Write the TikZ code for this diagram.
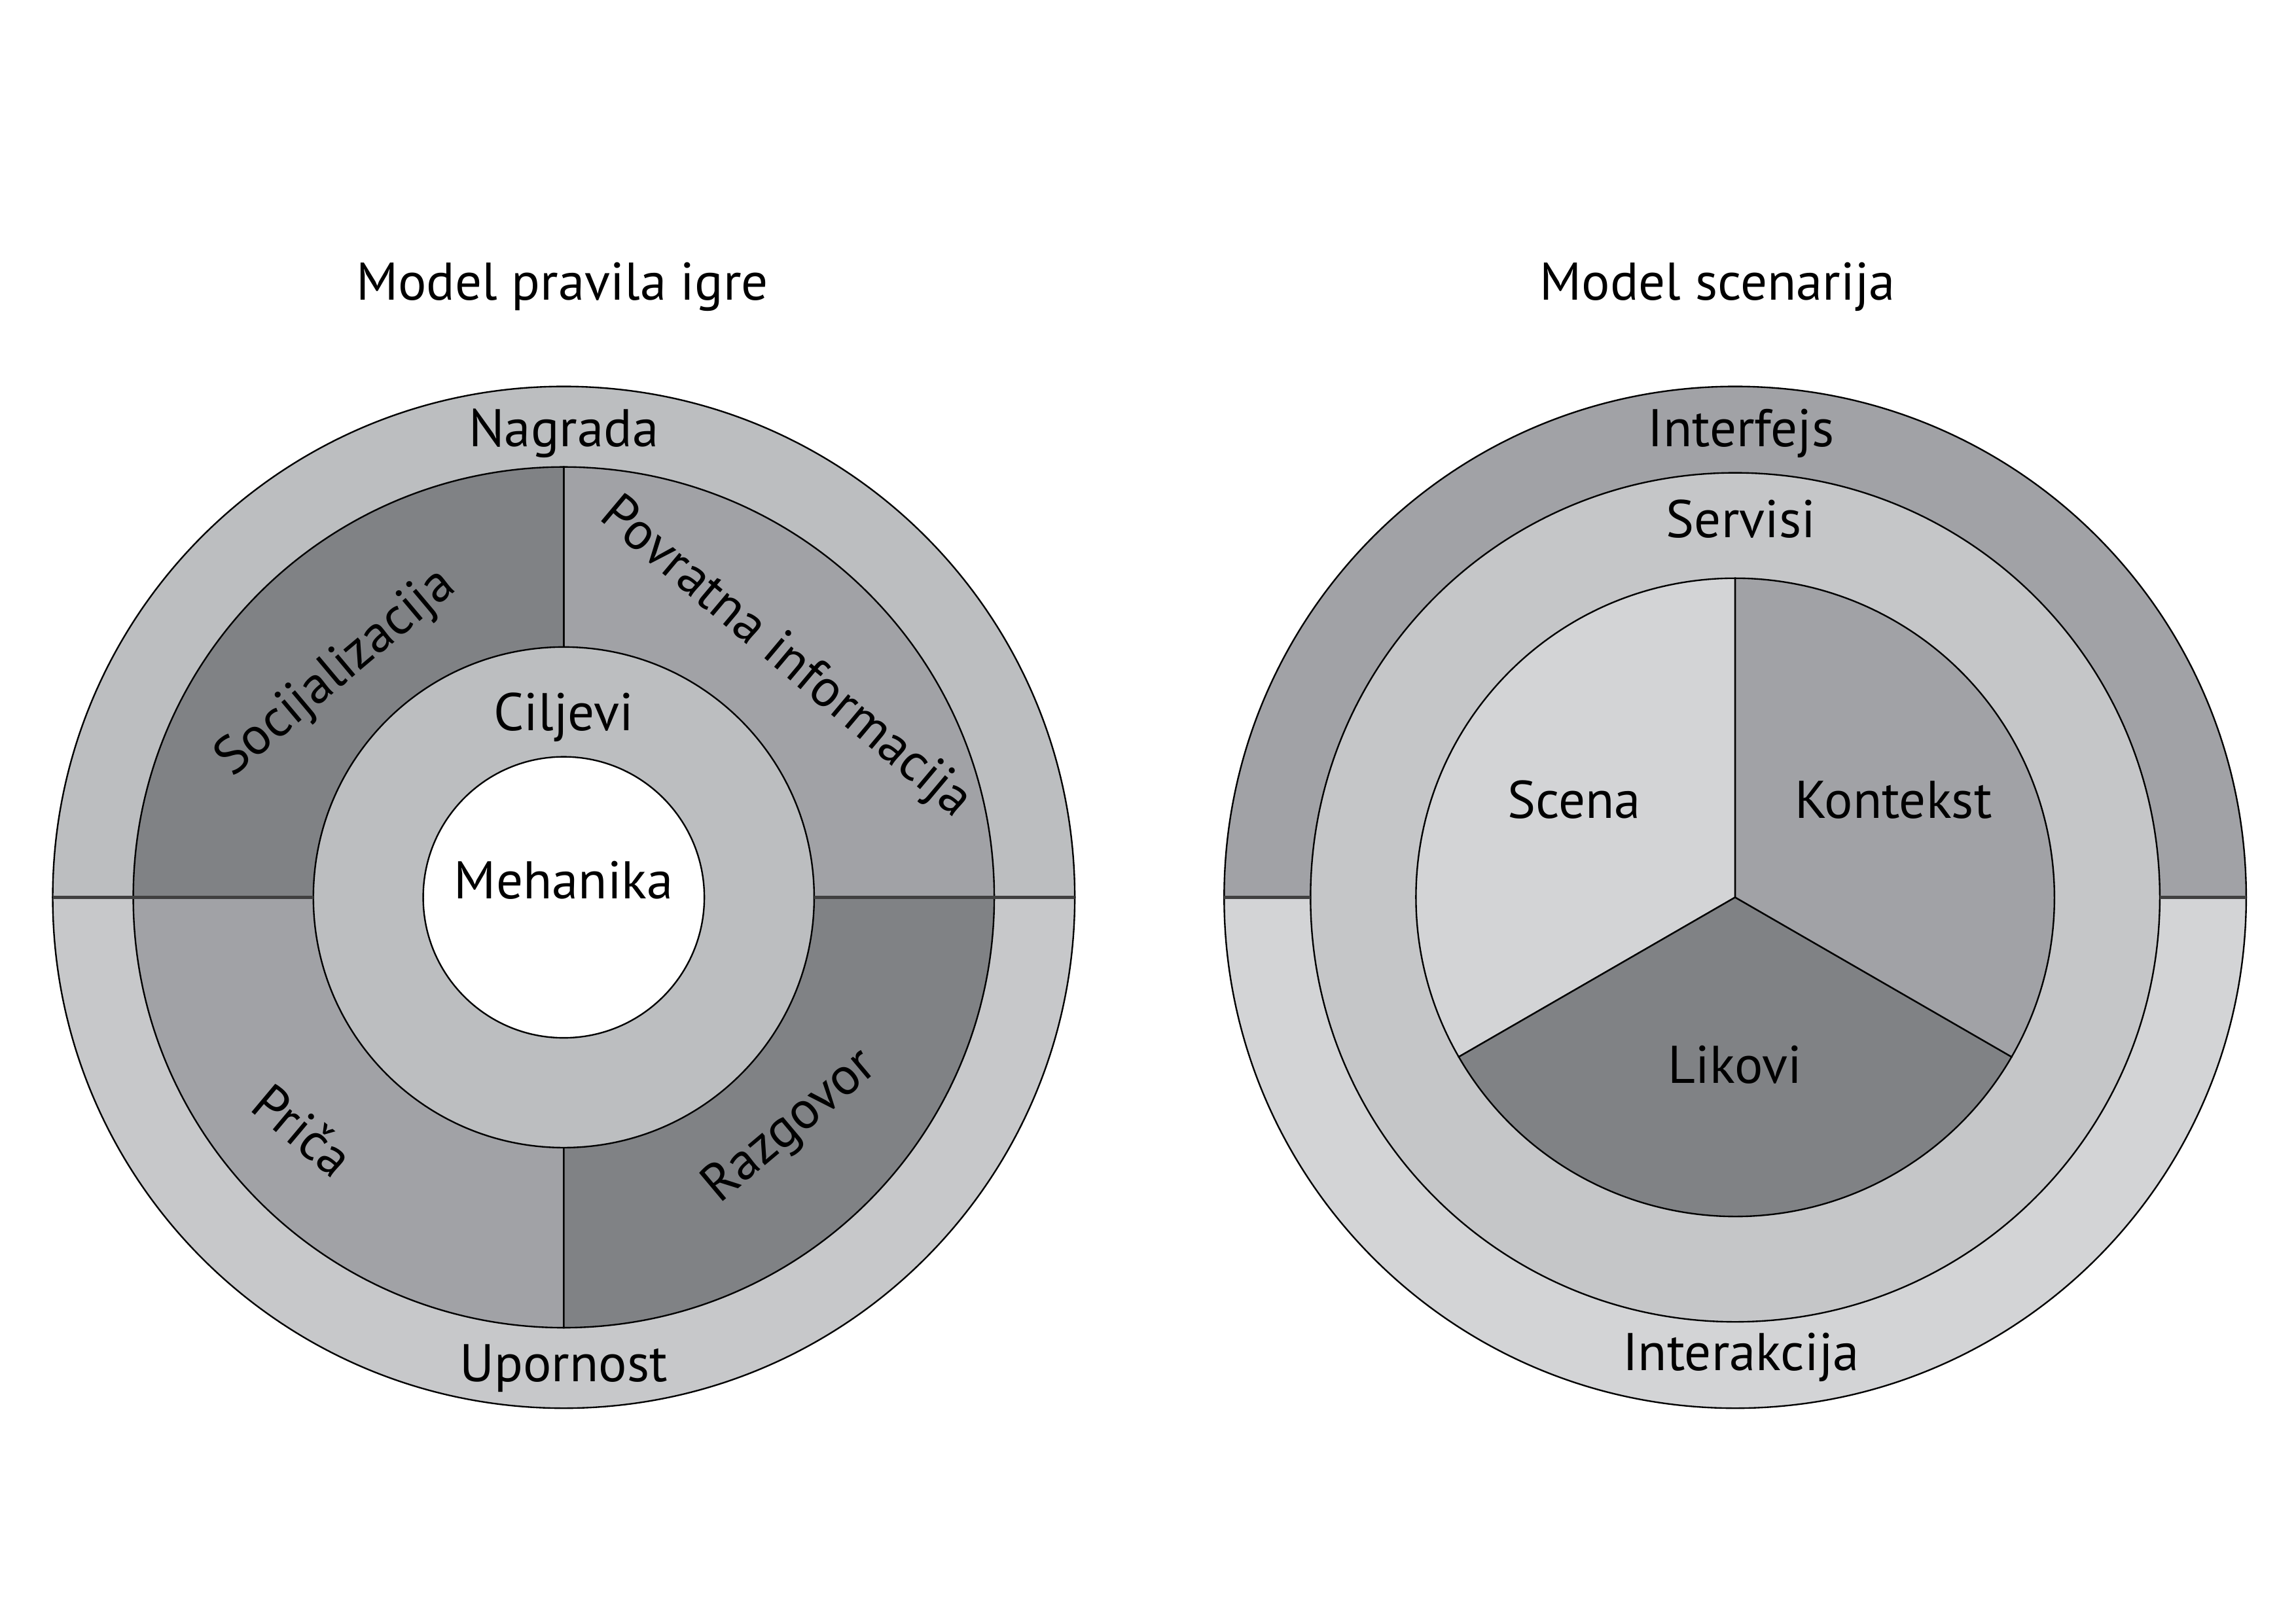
\documentclass[tikz,border=0pt]{standalone}
\usepackage{fontspec}
\setmainfont{PT Sans}
\definecolor{ringGray}{HTML}{BCBEC0}
\definecolor{lowGray}{HTML}{C7C8CA}
\definecolor{darkGray}{HTML}{808285}
\definecolor{midGray}{HTML}{A1A2A6}
\definecolor{paleGray}{HTML}{D3D4D6}
\definecolor{servGray}{HTML}{C5C6C8}

\begin{document}
\begin{tikzpicture}[x=0.01cm, y=0.01cm,
		rub/.style={draw=black, line width=0.3pt},
		razdio/.style={draw=black!75, line width=0.6pt},
		lbl/.style={font=\fontsize{10.3}{12}\selectfont, inner sep=0pt}]
		\useasboundingbox (0,0) rectangle (1568,1109);
		\coordinate (igra) at (385,496);
		\coordinate (scen) at (1185,496);
		%%%%%%%%%%%%%
		\node[lbl, anchor=base] (naslovA) at (384,904) {Model pravila igre};
		\node[lbl, anchor=base] (naslovB) at (1173,904) {Model scenarija};
		%%%%%%%%%%%%% model pravila igre
		\begin{scope}[shift={(igra)}]
		\filldraw[rub, fill=ringGray] (0:349) arc[start angle=0, end angle=180, radius=349] -- cycle;
		\filldraw[rub, fill=lowGray] (180:349) arc[start angle=180, end angle=360, radius=349] -- cycle;
		\filldraw[rub, fill=midGray] (0,0) -- (0:294) arc[start angle=0, end angle=90, radius=294] -- cycle;
		\filldraw[rub, fill=darkGray] (0,0) -- (90:294) arc[start angle=90, end angle=180, radius=294] -- cycle;
		\filldraw[rub, fill=midGray] (0,0) -- (180:294) arc[start angle=180, end angle=270, radius=294] -- cycle;
		\filldraw[rub, fill=darkGray] (0,0) -- (270:294) arc[start angle=270, end angle=360, radius=294] -- cycle;
		\filldraw[rub, fill=ringGray] (0,0) circle[radius=171];
		\filldraw[rub, fill=white] (0,0) circle[radius=96];
		\draw[razdio] (-349,0) -- (-171,0); \draw[razdio] (171,0) -- (349,0);
		%%%%%%%%%%%%%
		\node[lbl, anchor=base] (nagrada) at (0,308) {Nagrada};
		\node[lbl, anchor=base] (ciljevi) at (0,114) {Ciljevi};
		\node[lbl, anchor=base] (mehanika) at (0,-1) {Mehanika};
		\node[lbl, anchor=base] (upornost) at (0,-331) {Upornost};
		\node[lbl, rotate=40] (soc) at (-155,153) {Socijalizacija};
		\node[lbl, rotate=-40] (povratna) at (151,163) {Povratna informacija};
		\node[lbl, rotate=-40] (prica) at (-178,-159) {Priča};
		\node[lbl, rotate=40] (razgovor) at (155,-157) {Razgovor};
		\end{scope}
		%%%%%%%%%%%%% model scenarija
		\begin{scope}[shift={(scen)}]
		\filldraw[rub, fill=midGray] (0:349) arc[start angle=0, end angle=180, radius=349] -- cycle;
		\filldraw[rub, fill=paleGray] (180:349) arc[start angle=180, end angle=360, radius=349] -- cycle;
		\filldraw[rub, fill=servGray] (0,0) circle[radius=290];
		\filldraw[rub, fill=paleGray] (0,0) -- (90:218) arc[start angle=90, end angle=210, radius=218] -- cycle;
		\filldraw[rub, fill=darkGray] (0,0) -- (210:218) arc[start angle=210, end angle=330, radius=218] -- cycle;
		\filldraw[rub, fill=midGray] (0,0) -- (-30:218) arc[start angle=-30, end angle=90, radius=218] -- cycle;
		\draw[razdio] (-349,0) -- (-290,0); \draw[razdio] (290,0) -- (349,0);
		%%%%%%%%%%%%%
		\node[lbl, anchor=base] (interfejs) at (4,308) {Interfejs};
		\node[lbl, anchor=base] (servisi) at (4,246) {Servisi};
		\node[lbl, anchor=base] (scena) at (-110,54) {Scena};
		\node[lbl, anchor=base] (kontekst) at (108,54) {Kontekst};
		\node[lbl, anchor=base] (likovi) at (0,-127) {Likovi};
		\node[lbl, anchor=base] (interakcija) at (4,-323) {Interakcija};
		\end{scope}
\end{tikzpicture}
\end{document}
